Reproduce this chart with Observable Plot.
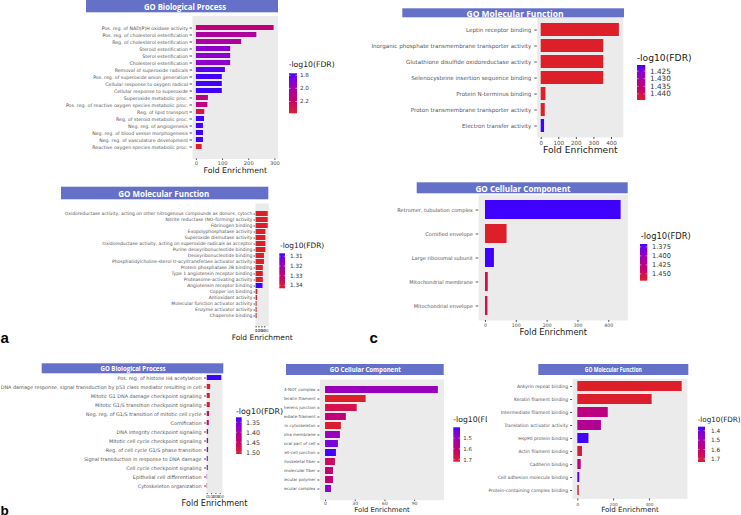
<!DOCTYPE html>
<html>
<head>
<meta charset="utf-8">
<script src="https://cdn.jsdelivr.net/npm/d3@7"></script>
<script src="https://cdn.jsdelivr.net/npm/@observablehq/plot@0.6"></script>
<style>
  html, body { margin: 0; padding: 0; background: #fff; }
  #root { position: relative; width: 741px; height: 515px; overflow: hidden; background: #fff; }
  #root svg { background: transparent !important; max-width: none !important; }
</style>
</head>
<body>
<div id="root"></div>
<script>
const W = 741, H = 515;
const BLUE = "#4000ff", RED = "#dd1f2a";

// ---------- Panel a (top-left): GO Biological Process ----------
const a1Terms = [
  "Pos. reg. of NAD(P)H oxidase activity",
  "Pos. reg. of cholesterol esterification",
  "Reg. of cholesterol esterification",
  "Steroid esterification",
  "Sterol esterification",
  "Cholesterol esterification",
  "Removal of superoxide radicals",
  "Pos. reg. of superoxide anion generation",
  "Cellular response to oxygen radical",
  "Cellular response to superoxide",
  "Superoxide metabolic proc.",
  "Pos. reg. of reactive oxygen species metabolic proc.",
  "Reg. of lipid transport",
  "Reg. of steroid metabolic proc.",
  "Neg. reg. of angiogenesis",
  "Neg. reg. of blood vessel morphogenesis",
  "Neg. reg. of vasculature development",
  "Reactive oxygen species metabolic proc."
];
const a1Fold = [297, 231, 173, 131, 131, 131, 111, 99, 99, 99, 46, 44, 32, 31, 27, 27, 27, 22];
const a1Fdr = [2.15, 2.05, 2.05, 1.92, 1.92, 1.92, 1.80, 1.77, 1.77, 1.77, 2.12, 2.12, 2.30, 1.77, 1.77, 1.77, 1.77, 2.38];
const a1XTicks = [0, 100, 200, 300];
const a1LegendTicks = [1.8, 2.0, 2.2];
const a1LegendLabels = ["1.8", "2.0", "2.2"];

// ---------- Panel a (middle-left): GO Molecular Function ----------
const a2Terms = [
  "Oxidoreductase activity, acting on other nitrogenous compounds as donors, cytoch",
  "Nitrite reductase (NO-forming) activity",
  "Fibrinogen binding",
  "Exopolyphosphatase activity",
  "Superoxide dismutase activity",
  "Oxidoreductase activity, acting on superoxide radicals as acceptor",
  "Purine deoxyribonucleotide binding",
  "Deoxyribonucleotide binding",
  "Phosphatidylcholine-sterol O-acyltransferase activator activity",
  "Protein phosphatase 2B binding",
  "Type 1 angiotensin receptor binding",
  "Proteasome-activating activity",
  "Angiotensin receptor binding",
  "Copper ion binding",
  "Antioxidant activity",
  "Molecular function activator activity",
  "Enzyme activator activity",
  "Chaperone binding"
];
const a2Fold = [420, 420, 420, 340, 340, 340, 340, 290, 290, 250, 250, 250, 240, 60, 50, 35, 35, 35];
const a2Fdr = [1.343, 1.343, 1.343, 1.343, 1.343, 1.343, 1.343, 1.343, 1.343, 1.343, 1.343, 1.343, 1.307, 1.343, 1.343, 1.343, 1.343, 1.343];
const a2XTicks = [0, 100, 200, 300];
const a2LegendTicks = [1.31, 1.32, 1.33, 1.34];
const a2LegendLabels = ["1.31", "1.32", "1.33", "1.34"];

// ---------- Panel c (top-right): GO Molecular Function ----------
const a3Terms = [
  "Leptin receptor binding",
  "Inorganic phosphate transmembrane transporter activity",
  "Glutathione disulfide oxidoreductase activity",
  "Selenocysteine insertion sequence binding",
  "Protein N-terminus binding",
  "Proton transmembrane transporter activity",
  "Electron transfer activity"
];
const a3Fold = [445, 356, 356, 356, 27, 23, 19];
const a3Fdr = [1.444, 1.444, 1.444, 1.444, 1.444, 1.444, 1.421];
const a3XTicks = [0, 100, 200, 300, 400];
const a3LegendTicks = [1.425, 1.430, 1.435, 1.440];
const a3LegendLabels = ["1.425", "1.430", "1.435", "1.440"];

// ---------- Panel c (middle-right): GO Cellular Component ----------
const a4Terms = [
  "Retromer, tubulation complex",
  "Cornified envelope",
  "Large ribosomal subunit",
  "Mitochondrial membrane",
  "Mitochondrial envelope"
];
const a4Fold = [440, 70, 29, 9, 8];
const a4Fdr = [1.367, 1.469, 1.367, 1.45, 1.45];
const a4XTicks = [0, 100, 200, 300, 400];
const a4LegendTicks = [1.375, 1.400, 1.425, 1.450];
const a4LegendLabels = ["1.375", "1.400", "1.425", "1.450"];

// ---------- Panel b (bottom-left): GO Biological Process ----------
const b1Terms = [
  "Pos. reg. of histone H4 acetylation",
  "DNA damage response, signal transduction by p53 class mediator resulting in cell",
  "Mitotic G1 DNA damage checkpoint signaling",
  "Mitotic G1/S transition checkpoint signaling",
  "Neg. reg. of G1/S transition of mitotic cell cycle",
  "Cornification",
  "DNA integrity checkpoint signaling",
  "Mitotic cell cycle checkpoint signaling",
  "Reg. of cell cycle G1/S phase transition",
  "Signal transduction in response to DNA damage",
  "Cell cycle checkpoint signaling",
  "Epithelial cell differentiation",
  "Cytoskeleton organization"
];
const b1Fold = [335, 79, 70, 70, 55, 47, 31, 31, 31, 24, 24, 8, 8];
const b1Fdr = [1.325, 1.51, 1.50, 1.50, 1.47, 1.46, 1.42, 1.40, 1.40, 1.35, 1.34, 1.40, 1.45];
const b1XTicks = [0, 100, 200, 300];
const b1LegendTicks = [1.35, 1.40, 1.45, 1.50];
const b1LegendLabels = ["1.35", "1.40", "1.45", "1.50"];

// ---------- Panel b (bottom-middle): GO Cellular Component ----------
const b2Terms = [
  "CCR4-NOT complex",
  "Keratin filament",
  "Adherens junction",
  "Intermediate filament",
  "Actin cytoskeleton",
  "Plasma membrane",
  "Apical part of cell",
  "Cell-cell junction",
  "Cytoskeletal fiber",
  "Supramolecular fiber",
  "Supramolecular polymer",
  "Supramolecular complex"
];
const b2Fold = [114, 41, 32, 21, 16, 15, 13, 11, 10, 8, 8, 6];
const b2Fdr = [1.50, 1.72, 1.67, 1.60, 1.71, 1.50, 1.45, 1.40, 1.64, 1.61, 1.61, 1.48];
const b2XTicks = [0, 30, 60, 90];
const b2LegendTicks = [1.5, 1.6, 1.7];
const b2LegendLabels = ["1.5", "1.6", "1.7"];

// ---------- Panel b (bottom-right): GO Molecular Function ----------
const b3Terms = [
  "Ankyrin repeat binding",
  "Keratin filament binding",
  "Intermediate filament binding",
  "Translation activator activity",
  "Hsp90 protein binding",
  "Actin filament binding",
  "Cadherin binding",
  "Cell adhesion molecule binding",
  "Protein-containing complex binding"
];
const b3Fold = [583, 415, 170, 132, 62, 26, 19, 11, 8];
const b3Fdr = [1.733, 1.73, 1.58, 1.55, 1.357, 1.70, 1.58, 1.37, 1.72];
const b3XTicks = [0, 200, 400];
const b3LegendTicks = [1.4, 1.5, 1.6, 1.7];
const b3LegendLabels = ["1.4", "1.5", "1.6", "1.7"];

// ---------- layout (positions in page pixels) ----------
const panels = [
  { title: "GO Biological Process", terms: a1Terms, fold: a1Fold, fdr: a1Fdr, xTicks: a1XTicks, legTicks: a1LegendTicks, legLabels: a1LegendLabels,
    frame: [192, 277.5, 15.5, 158.5], pi: 0.22, po: 0.45,
    yAx: [2.5, 2, 4.7], xAx: [1.5, 0.8, 5.2], xlab: [172.3, 7.8],
    tbar: [86, 278, 0, 12.3], ttext: [185, 6.6, 8.5, 82],
    leg: { title: [288.7, 64.3, 7.7], bar: [289, 297, 73.3, 113.3], labX: 300, labSize: 5.6 } },
  { title: "GO Molecular Function", terms: a3Terms, fold: a3Fold, fdr: a3Fdr, xTicks: a3XTicks, legTicks: a3LegendTicks, legLabels: a3LegendLabels,
    frame: [536.8, 622.8, 17, 137], pi: 0.21, po: 0.16,
    yAx: [2.5, 3.5, 5.6], xAx: [2, 1.5, 5.6], xlab: [152.3, 9.2],
    tbar: [402.3, 624, 8.3, 17.3], ttext: [515, 13.6, 9, 97],
    leg: { title: [636.7, 57.7, 9.2], bar: [637, 645.3, 65, 100], labX: 650, labSize: 7.3 } },
  { title: "GO Molecular Function", terms: a2Terms, fold: a2Fold, fdr: a2Fdr, xTicks: a2XTicks, legTicks: a2LegendTicks, legLabels: a2LegendLabels,
    frame: [255, 268.3, 203, 326], pi: 0.2, po: 0.28,
    yAx: [1.5, 1.6, 4.5], xAx: [1.5, 0.8, 4], xlab: [339, 7.5],
    tbar: [61, 268.3, 186.7, 199.3], ttext: [163.8, 193.2, 8.5, 91],
    leg: { title: [280, 245, 7.4], bar: [279.3, 285, 253.3, 288.3], labX: 290, labSize: 5.7 } },
  { title: "GO Cellular Component", terms: a4Terms, fold: a4Fold, fdr: a4Fdr, xTicks: a4XTicks, legTicks: a4LegendTicks, legLabels: a4LegendLabels,
    frame: [478.2, 627.4, 194.3, 320], pi: 0.2, po: 0.2,
    yAx: [2.5, 3.4, 5.05], xAx: [1.8, 0.9, 4.7], xlab: [334, 8.3],
    tbar: [416.7, 627.7, 182.3, 193.3], ttext: [523, 188, 8.3, 95],
    leg: { title: [640.7, 236, 8.4], bar: [640, 647.3, 244, 280.7], labX: 652, labSize: 6.6 } },
  { title: "GO Biological Process", terms: b1Terms, fold: b1Fold, fdr: b1Fdr, xTicks: b1XTicks, legTicks: b1LegendTicks, legLabels: b1LegendLabels,
    frame: [206, 222, 369, 493], pi: 0.45, po: 0.49,
    yAx: [2, 3, 4.9], xAx: [1.2, 0.4, 4], xlab: [505, 8.1],
    tbar: [41.7, 223.3, 363.3, 373.3], ttext: [133, 368.5, 6.8, 65],
    leg: { title: [236, 411.7, 7.9], bar: [236, 241.7, 417.3, 454], labX: 246, labSize: 6.3 } },
  { title: "GO Cellular Component", terms: b2Terms, fold: b2Fold, fdr: b2Fdr, xTicks: b2XTicks, legTicks: b2LegendTicks, legLabels: b2LegendLabels,
    frame: [319.4, 443.5, 379, 499.7], pi: 0.22, po: 0.25,
    yAx: [2, 2.4, 4.1], xAx: [1.4, 0.6, 4.5], xlab: [511.5, 6.8],
    tbar: [286, 443.7, 364, 375], ttext: [365.3, 369.5, 6.8, 71],
    leg: { title: [453.3, 419, 7.7], bar: [453.3, 460, 427.3, 461.7], labX: 463.3, labSize: 5.4 },
    clip: [284, 487] },
  { title: "GO Molecular Function", terms: b3Terms, fold: b3Fold, fdr: b3Fdr, xTicks: b3XTicks, legTicks: b3LegendTicks, legLabels: b3LegendLabels,
    frame: [572.1, 686.9, 378.3, 498.4], pi: 0.23, po: 0.2,
    yAx: [2, 2.4, 4.5], xAx: [2, 2.2, 4.2], xlab: [511.5, 7.1],
    tbar: [538.3, 688.3, 364, 375], ttext: [613.3, 369.5, 6.8, 57],
    leg: { title: [697.7, 419, 7.2], bar: [698, 705, 426.7, 462], labX: 711, labSize: 5.8 } }
];

const root = document.getElementById("root");
let gradId = 0;

function makePanel(p) {
  const data = p.terms.map((t, i) => ({ term: t, fold: p.fold[i], fdr: p.fdr[i] }));
  const M = d3.max(p.fold);
  const [fx0, fx1, fy0, fy1] = p.frame;
  const ext = d3.extent(p.fdr);
  const svg = Plot.plot({
    width: W, height: H,
    marginLeft: fx0, marginRight: W - fx1, marginTop: fy0, marginBottom: H - fy1,
    x: { domain: [-0.05 * M, 1.05 * M] },
    y: { domain: p.terms, paddingInner: p.pi, paddingOuter: p.po, align: 0.5 },
    color: { type: "linear", domain: ext, range: [BLUE, RED], interpolate: "lab" },
    marks: [
      Plot.frame({ fill: "#ebebeb", stroke: "none" }),
      Plot.barX(data, { x: "fold", y: "term", fill: "fdr" }),
      Plot.axisX({ ticks: p.xTicks, tickSize: p.xAx[0], tickPadding: p.xAx[1], fontSize: p.xAx[2], label: null, color: "#4d4d4d" }),
      Plot.axisY({ tickSize: p.yAx[0], tickPadding: p.yAx[1], fontSize: p.yAx[2], label: null, color: "#555" }),
      Plot.text(["Fold Enrichment"], { frameAnchor: "bottom", dy: p.xlab[0] - fy1, text: d => d, fontSize: p.xlab[1], fill: "#1a1a1a" })
    ]
  });
  svg.setAttribute("font-family", "DejaVu Sans, sans-serif");
  svg.style.position = "absolute";
  svg.style.left = "0px";
  svg.style.top = "0px";
  svg.style.width = W + "px";
  svg.style.height = H + "px";
  svg.style.background = "transparent";
  svg.style.maxWidth = "none";

  const g = d3.select(svg).append("g").attr("text-anchor", "start");
  // title bar
  const [bx0, bx1, by0, by1] = p.tbar;
  g.append("rect").attr("x", bx0).attr("y", by0).attr("width", bx1 - bx0).attr("height", by1 - by0)
    .attr("fill", "#6571c9");
  const [tcx, tcy, tsz, tlen] = p.ttext;
  g.append("text").attr("x", tcx).attr("y", tcy).attr("text-anchor", "middle").attr("dominant-baseline", "central")
    .attr("font-family", "Open Sans, DejaVu Sans, sans-serif").attr("font-weight", "bold")
    .attr("font-size", tsz).attr("fill", "#ffffff")
    .attr("textLength", tlen).attr("lengthAdjust", "spacingAndGlyphs")
    .text(p.title);

  // color legend
  const L = p.leg;
  const id = "grad" + (gradId++);
  const lg = g.append("defs").append("linearGradient").attr("id", id)
    .attr("x1", 0).attr("x2", 0).attr("y1", 0).attr("y2", 1);
  const interp = d3.interpolateLab(BLUE, RED);
  d3.range(0, 1.0001, 0.05).forEach(t => lg.append("stop").attr("offset", t).attr("stop-color", interp(t)));
  const [gx0, gx1, gy0, gy1] = L.bar;
  g.append("rect").attr("x", gx0).attr("y", gy0).attr("width", gx1 - gx0).attr("height", gy1 - gy0)
    .attr("fill", `url(#${id})`);
  const sy = d3.scaleLinear().domain(ext).range([gy0, gy1]);
  const tw = (gx1 - gx0) / 5;
  p.legTicks.forEach((v, i) => {
    const y = sy(v);
    g.append("line").attr("x1", gx0).attr("x2", gx0 + tw).attr("y1", y).attr("y2", y).attr("stroke", "#fff").attr("stroke-width", 0.5);
    g.append("line").attr("x1", gx1 - tw).attr("x2", gx1).attr("y1", y).attr("y2", y).attr("stroke", "#fff").attr("stroke-width", 0.5);
    g.append("text").attr("x", L.labX).attr("y", y).attr("text-anchor", "start").attr("dominant-baseline", "central")
      .attr("font-size", L.labSize).attr("fill", "#333").text(p.legLabels[i]);
  });
  g.append("text").attr("x", L.title[0]).attr("y", L.title[1]).attr("text-anchor", "start").attr("dominant-baseline", "central")
    .attr("font-size", L.title[2]).attr("fill", "#1a1a1a").text("-log10(FDR)");

  if (p.clip) {
    const div = document.createElement("div");
    div.style.cssText = `position:absolute;left:${p.clip[0]}px;top:0;width:${p.clip[1] - p.clip[0]}px;height:${H}px;overflow:hidden;`;
    svg.style.left = (-p.clip[0]) + "px";
    div.appendChild(svg);
    root.appendChild(div);
  } else {
    root.appendChild(svg);
  }
}

panels.forEach(makePanel);

// panel letters
const letters = d3.select(root).append("svg")
  .attr("width", W).attr("height", H)
  .style("position", "absolute").style("left", "0px").style("top", "0px");
[["a", 0.5, 343.3, 15], ["c", 369.5, 343.3, 15], ["b", 0.5, 514.5, 13.5]].forEach(([t, x, y, s]) => {
  letters.append("text").attr("x", x).attr("y", y).attr("text-anchor", "start").attr("font-family", "Liberation Sans, Arial, sans-serif")
    .attr("font-weight", "bold").attr("font-size", s).attr("fill", "#000").text(t);
});
</script>
</body>
</html>
